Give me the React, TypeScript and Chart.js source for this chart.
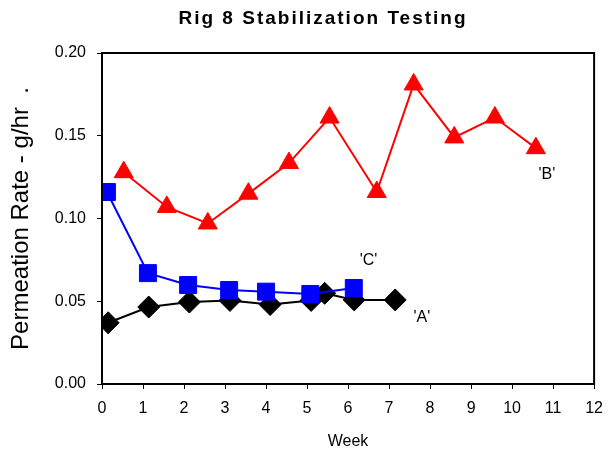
import React, { useEffect, useRef } from "react";
import { Chart, registerables } from "chart.js";

Chart.register(...registerables);

const titleText = "Rig 8 Stabilization Testing";
const xTitle = "Week";
const yTitle = "Permeation Rate - g/hr  .";

const weeksA = [0.15, 1.14, 2.13, 3.12, 4.1, 5.1, 5.43, 6.15, 7.15];
const valuesA = [0.037, 0.0465, 0.0495, 0.0505, 0.048, 0.0505, 0.0548, 0.0508, 0.0508];

const weeksB = [0.53, 1.58, 2.58, 3.57, 4.56, 5.55, 6.7, 7.6, 8.59, 9.58, 10.58];
const valuesB = [0.128, 0.107, 0.097, 0.115, 0.1335, 0.161, 0.116, 0.181, 0.149, 0.161, 0.1425];

const weeksC = [0.12, 1.12, 2.1, 3.1, 4.0, 5.08, 6.14];
const valuesC = [0.116, 0.067, 0.0598, 0.0568, 0.0558, 0.0544, 0.058];

const seriesLabels = ["'A'", "'B'", "'C'"];
const labelPos = [
  { x: 7.8, y: 0.04 },
  { x: 10.85, y: 0.1265 },
  { x: 6.5, y: 0.0745 },
];

const xTicks = [0, 1, 2, 3, 4, 5, 6, 7, 8, 9, 10, 11, 12];
const yTicks = [0, 0.05, 0.1, 0.15, 0.2];

const FONT = "Arial, 'Liberation Sans', sans-serif";

const toPoints = (xs: number[], ys: number[]) => xs.map((x, i) => ({ x, y: ys[i] }));

export default function App() {
  const ref = useRef<HTMLCanvasElement | null>(null);
  useEffect(() => {
    if (!ref.current) return;
    const decor = {
      id: "decor",
      afterDraw(chart: any) {
        const { ctx, chartArea } = chart;
        const xs = chart.scales.x;
        const ys = chart.scales.y;
        ctx.save();
        // frame
        ctx.strokeStyle = "#000";
        ctx.lineWidth = 2;
        ctx.strokeRect(chartArea.left, chartArea.top, chartArea.right - chartArea.left, chartArea.bottom - chartArea.top);
        // title
        ctx.fillStyle = "#000";
        ctx.font = "bold 19px " + FONT;
        (ctx as any).letterSpacing = "2px";
        ctx.textAlign = "center";
        ctx.textBaseline = "middle";
        ctx.fillText(titleText, 323, 19);
        (ctx as any).letterSpacing = "0px";
        // series labels
        ctx.font = "16px " + FONT;
        seriesLabels.forEach((t, i) => {
          ctx.fillText(t, xs.getPixelForValue(labelPos[i].x), ys.getPixelForValue(labelPos[i].y));
        });
        ctx.restore();
      },
    };
    const chart = new Chart(ref.current, {
      type: "line",
      data: {
        datasets: [
          {
            label: "B",
            data: toPoints(weeksB, valuesB),
            borderColor: "#FF0000",
            backgroundColor: "#FF0000",
            borderWidth: 2,
            pointStyle: "triangle",
            pointRadius: 11,
            pointBorderWidth: 1,
          },
          {
            label: "C",
            data: toPoints(weeksC, valuesC),
            borderColor: "#0000FF",
            backgroundColor: "#0000FF",
            borderWidth: 2,
            pointStyle: "rect",
            pointRadius: 12,
            pointBorderWidth: 1,
          },
          {
            label: "A",
            data: toPoints(weeksA, valuesA),
            borderColor: "#000000",
            backgroundColor: "#000000",
            borderWidth: 2,
            pointStyle: "rectRot",
            pointRadius: 11,
            pointBorderWidth: 1,
          },
        ],
      },
      options: {
        responsive: false,
        animation: false,
        layout: { padding: { top: 53, right: 18, left: 0, bottom: 0 } },
        plugins: {
          legend: { display: false },
          title: { display: false },
          tooltip: { enabled: false },
        },
        scales: {
          x: {
            type: "linear",
            min: 0,
            max: 12,
            afterFit: (s: any) => {
              s.height = 71;
            },
            afterBuildTicks: (s: any) => {
              s.ticks = xTicks.map((v) => ({ value: v }));
            },
            ticks: {
              color: "#000",
              font: { family: FONT, size: 16 },
              padding: 10,
              maxRotation: 0,
              autoSkip: false,
            },
            grid: { drawOnChartArea: false, color: "#000", tickLength: 5, lineWidth: 1 },
            border: { color: "#000", width: 2 },
            title: {
              display: true,
              text: xTitle,
              color: "#000",
              font: { family: FONT, size: 16 },
              padding: { top: 10 },
            },
          },
          y: {
            type: "linear",
            min: 0,
            max: 0.2,
            afterFit: (s: any) => {
              s.width = 102;
            },
            afterBuildTicks: (s: any) => {
              s.ticks = yTicks.map((v) => ({ value: v }));
            },
            ticks: {
              color: "#000",
              font: { family: FONT, size: 16 },
              padding: 11,
              callback: (v: any) => Number(v).toFixed(2),
            },
            grid: { drawOnChartArea: false, color: "#000", tickLength: 5, lineWidth: 1 },
            border: { color: "#000", width: 2 },
            title: {
              display: true,
              text: yTitle,
              color: "#000",
              font: { family: FONT, size: 24 },
              padding: { top: 7, bottom: 0 },
            },
          },
        },
      },
      plugins: [decor],
    });
    return () => chart.destroy();
  }, []);
  return (
    <div style={{ position: "fixed", left: 0, top: 0, width: 613, height: 455, background: "#fff" }}>
      <canvas ref={ref} width={613} height={455} style={{ display: "block" }} />
    </div>
  );
}
